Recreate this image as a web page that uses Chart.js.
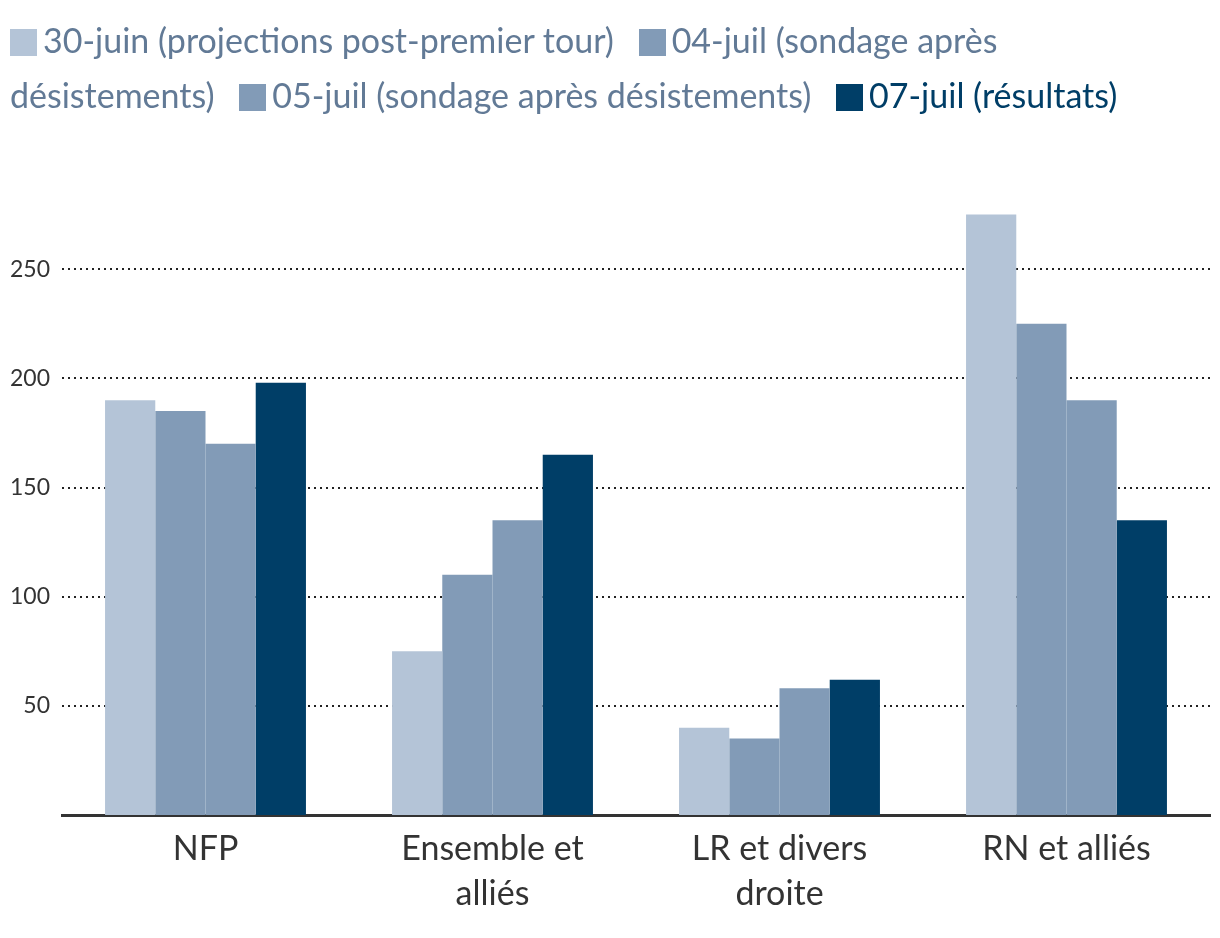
<!DOCTYPE html>
<html>
<head>
<meta charset="utf-8">
<script src="https://cdn.jsdelivr.net/npm/chart.js@4"></script>
<style>
    html, body { margin: 0; padding: 0; background: #fff; }
    #wrap { position: relative; width: 1220px; height: 938px; }
    #chart { position: absolute; left: 0; top: 0; }
    #legend {
        position: absolute; left: 0; top: 12px; width: 1160px;
        padding-left: 10px;
        font-family: Lato, "Noto Sans", sans-serif; font-size: 34px; line-height: 55px;
    }
    #legend .item { margin-right: 16px; }
    #legend .box {
        display: inline-block; width: 27px; height: 27px; margin-right: 6px;
        vertical-align: -3px;
    }
</style>
</head>
<body>
<div id="wrap">
    <canvas id="chart" width="1220" height="938"></canvas>
    <div id="legend"></div>
</div>
<script>
const categories = ["NFP", ["Ensemble et", "alliés"], ["LR et divers", "droite"], "RN et alliés"];
const seriesLabels = [
    "30-juin (projections post-premier tour)",
    "04-juil (sondage après désistements)",
    "05-juil (sondage après désistements)",
    "07-juil (résultats)"
];
const juin30 = [190, 75, 40, 275];
const juil04 = [185, 110, 35, 225];
const juil05 = [170, 135, 58, 190];
const juil07 = [198, 165, 62, 135];
const yTicks = [50, 100, 150, 200, 250];

const barColors = ["#b4c4d7", "#829bb7", "#829bb7", "#003e67"];
const textColors = ["#627a96", "#627a96", "#627a96", "#003e67"];

// legend as html so the labels can wrap mid-item like the original
const legend = document.getElementById("legend");
seriesLabels.forEach((label, i) => {
    const item = document.createElement("span");
    item.className = "item";
    item.style.color = textColors[i];
    const box = document.createElement("span");
    box.className = "box";
    box.style.background = barColors[i];
    item.appendChild(box);
    item.appendChild(document.createTextNode(label));
    legend.appendChild(item);
    legend.appendChild(document.createTextNode(" "));
});

const seriesValues = [juin30, juil04, juil05, juil07];
const datasets = seriesValues.map((values, i) => ({
    label: seriesLabels[i],
    data: values,
    backgroundColor: barColors[i],
    borderWidth: 0,
    categoryPercentage: 0.7,
    barPercentage: 1.0
}));

new Chart(document.getElementById("chart").getContext("2d"), {
    type: "bar",
    data: { labels: categories, datasets },
    options: {
        responsive: false,
        animation: false,
        layout: { padding: { top: 160, right: 10, left: 0, bottom: 0 } },
        plugins: {
            legend: { display: false },
            tooltip: { enabled: false }
        },
        scales: {
            x: {
                grid: { display: false },
                border: { display: true, color: "#333", width: 3 },
                ticks: {
                    color: "#333",
                    padding: 4,
                    maxRotation: 0,
                    font: { family: "Lato", size: 34, lineHeight: 1.32 }
                },
                afterFit: (scale) => { scale.height = 123; }
            },
            y: {
                min: 0,
                max: 300,
                afterBuildTicks: (scale) => {
                    scale.ticks = yTicks.map((v) => ({ value: v }));
                },
                grid: { color: "#222", lineWidth: 2, drawTicks: false },
                border: { display: false, dash: [2, 4] },
                ticks: {
                    color: "#333",
                    padding: 12,
                    font: { family: "Lato", size: 23 }
                },
                afterFit: (scale) => { scale.width = 62; }
            }
        }
    }
});
</script>
</body>
</html>
